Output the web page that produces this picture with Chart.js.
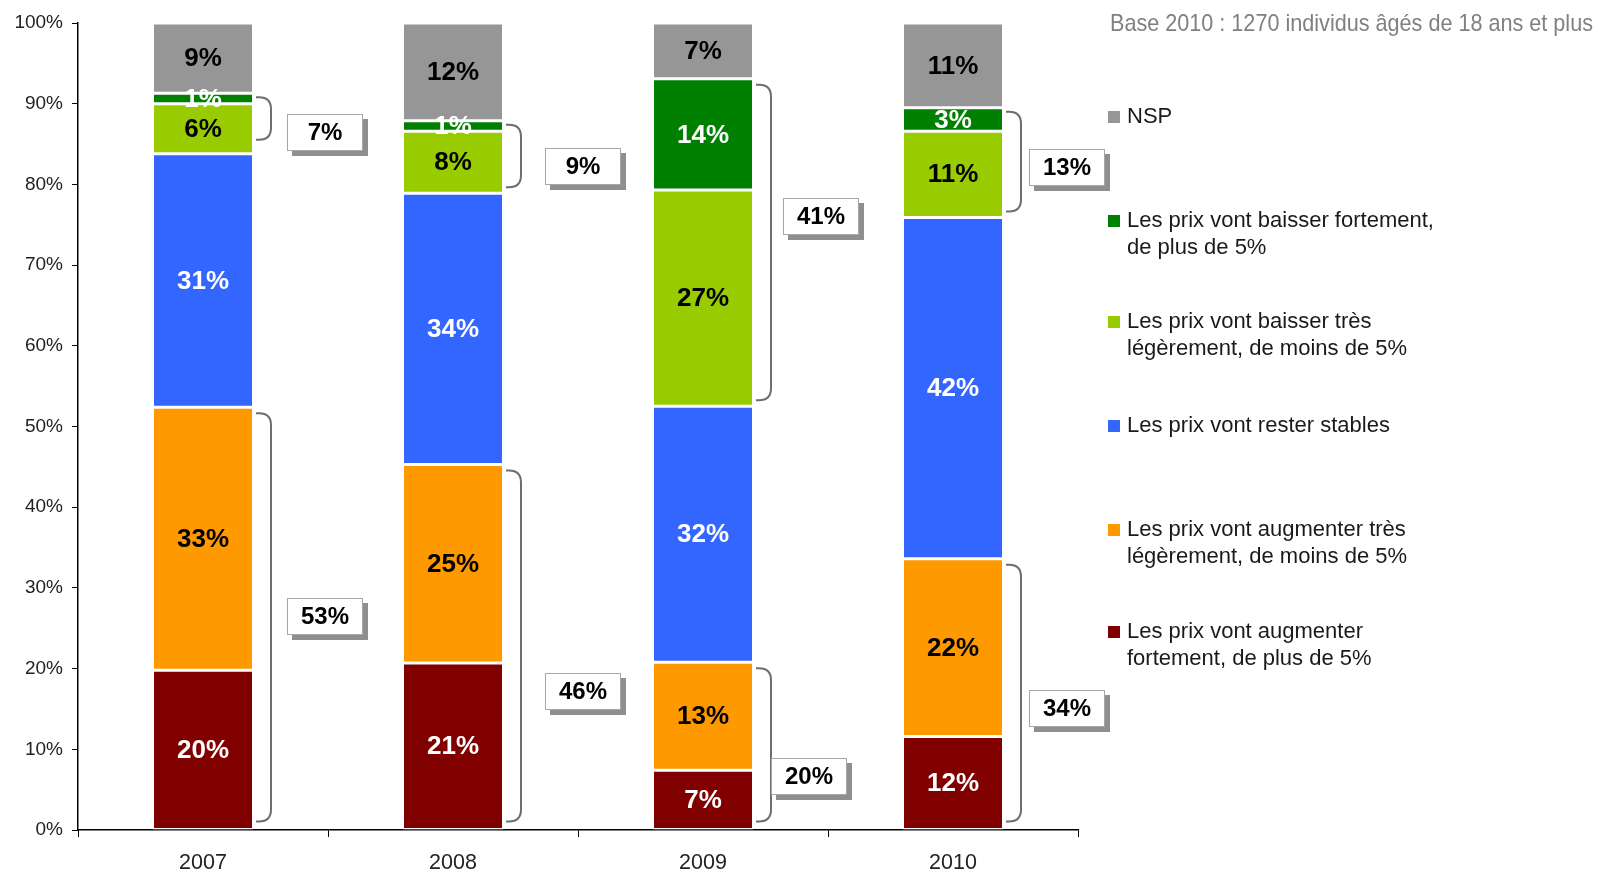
<!DOCTYPE html>
<html><head><meta charset="utf-8">
<script src="https://cdn.jsdelivr.net/npm/chart.js@4.4.0/dist/chart.umd.min.js"></script>
<style>html,body{margin:0;padding:0;background:#fff;overflow:hidden}</style>
</head><body>
<canvas id="c" width="1598" height="871" style="width:1598px;height:871px;display:block"></canvas>
<script>
// ---- DATA ----
const categories = ['2007', '2008', '2009', '2010'];
const augmenterFortement  = [19.8, 20.7, 7.4, 11.6];
const augmenterLegerement = [32.6, 24.6, 13.4, 22.0];
const resterStables       = [31.4, 33.6, 31.7, 42.3];
const baisserLegerement   = [6.2, 7.7, 26.8, 10.7];
const baisserFortement    = [1.3, 1.3, 13.8, 2.9];
const nsp                 = [8.7, 12.1, 6.9, 10.5];
const totalAugmenter = [53, 46, 20, 34];
const totalBaisser   = [7, 9, 41, 13];
const yTickValues = [0, 10, 20, 30, 40, 50, 60, 70, 80, 90, 100];
const seriesNames = [
  ['Les prix vont augmenter', 'fortement, de plus de 5%'],
  ['Les prix vont augmenter très', 'légèrement, de moins de 5%'],
  ['Les prix vont rester stables'],
  ['Les prix vont baisser très', 'légèrement, de moins de 5%'],
  ['Les prix vont baisser fortement,', 'de plus de 5%'],
  ['NSP']
];
const baseNote = 'Base 2010 : 1270 individus âgés de 18 ans et plus';

// ---- STYLE / LAYOUT ----
const FONT = '"Liberation Sans", Arial, sans-serif';
const colors = ['#800000', '#FF9900', '#3366FF', '#99CC00', '#008000', '#969696'];
const labelColors = ['#fff', '#000', '#fff', '#000', '#fff', '#000'];
const seriesValues = [augmenterFortement, augmenterLegerement, resterStables, baisserLegerement, baisserFortement, nsp];
// box placement: dx from bar right edge (px) to box centre, and vertical centre in axis %
const boxLayoutHigh = [{dx: 72, v: 86.4}, {dx: 80, v: 82.2}, {dx: 68, v: 76.0}, {dx: 64, v: 82.1}];
const boxLayoutLow  = [{dx: 72, v: 26.4}, {dx: 80, v: 17.2}, {dx: 56, v: 6.6}, {dx: 64, v: 15.1}];
const bracketInsetHigh = [{t: 4, b: 14}, {t: 4, b: 6}, {t: 6, b: 6}, {t: 4, b: 6}];

const datasets = seriesValues.map((vals, i) => ({
  label: seriesNames[i].join(' '),
  data: vals,
  backgroundColor: colors[i],
  borderColor: '#ffffff',
  borderWidth: {top: 1.5, bottom: 1.5, left: 1, right: 1},
  borderSkipped: false,
  categoryPercentage: 1,
  barPercentage: 0.4
}));

const segmentLabels = {
  id: 'segmentLabels',
  afterDatasetsDraw(chart) {
    const ctx = chart.ctx;
    ctx.save();
    ctx.font = 'bold 26px ' + FONT;
    ctx.textAlign = 'center';
    ctx.textBaseline = 'middle';
    chart.data.datasets.forEach((ds, di) => {
      const meta = chart.getDatasetMeta(di);
      meta.data.forEach((el, i) => {
        const v = ds.data[i];
        ctx.fillStyle = labelColors[di];
        ctx.fillText(Math.round(v) + '%', el.x, (el.y + el.base) / 2 + 1);
      });
    });
    ctx.restore();
  }
};

function drawBracket(ctx, x0, yTop, yBot) {
  const w = 15;
  const r = Math.min(12, (yBot - yTop) / 2);
  const x1 = x0 + w;
  ctx.beginPath();
  ctx.moveTo(x0, yTop);
  ctx.lineTo(x1 - r, yTop);
  ctx.quadraticCurveTo(x1, yTop, x1, yTop + r);
  ctx.lineTo(x1, yBot - r);
  ctx.quadraticCurveTo(x1, yBot, x1 - r, yBot);
  ctx.lineTo(x0, yBot);
  ctx.stroke();
}

function drawBox(ctx, cx, cy, text) {
  const w = 76, h = 37;
  const x = Math.round(cx - w / 2), y = Math.round(cy - h / 2);
  ctx.fillStyle = '#8f8f8f';
  ctx.fillRect(x + 5, y + 5, w, h);
  ctx.fillStyle = '#ffffff';
  ctx.fillRect(x, y, w, h);
  ctx.strokeStyle = '#a6a6a6';
  ctx.lineWidth = 1;
  ctx.strokeRect(x + 0.5, y + 0.5, w - 1, h - 1);
  ctx.fillStyle = '#000';
  ctx.font = 'bold 24px ' + FONT;
  ctx.textAlign = 'center';
  ctx.textBaseline = 'middle';
  ctx.fillText(text, x + w / 2, y + h / 2 + 1);
}

const brackets = {
  id: 'brackets',
  afterDatasetsDraw(chart) {
    const ctx = chart.ctx;
    const ys = chart.scales.y;
    ctx.save();
    categories.forEach((c, i) => {
      const red = chart.getDatasetMeta(0).data[i];
      const orange = chart.getDatasetMeta(1).data[i];
      const lg = chart.getDatasetMeta(3).data[i];
      const dg = chart.getDatasetMeta(4).data[i];
      const right = red.x + red.width / 2;
      ctx.strokeStyle = '#6e6e6e';
      ctx.lineWidth = 2;
      drawBracket(ctx, right + 3, orange.y + 6, red.base - 8);
      drawBracket(ctx, right + 3, dg.y + bracketInsetHigh[i].t, lg.base - bracketInsetHigh[i].b);
      drawBox(ctx, right + boxLayoutLow[i].dx, ys.getPixelForValue(boxLayoutLow[i].v), totalAugmenter[i] + '%');
      drawBox(ctx, right + boxLayoutHigh[i].dx, ys.getPixelForValue(boxLayoutHigh[i].v), totalBaisser[i] + '%');
    });
    ctx.restore();
  }
};

const sideLegend = {
  id: 'sideLegend',
  afterDraw(chart) {
    const ctx = chart.ctx;
    ctx.save();
    const order = [5, 4, 3, 2, 1, 0];
    const firstY = [117, 221, 322, 426, 530, 632];
    ctx.font = '22px ' + FONT;
    ctx.textBaseline = 'middle';
    ctx.textAlign = 'left';
    order.forEach((di, k) => {
      const y = firstY[k];
      ctx.fillStyle = colors[di];
      ctx.fillRect(1108, y - 6, 12, 12);
      ctx.fillStyle = '#1a1a1a';
      seriesNames[di].forEach((line, li) => {
        ctx.fillText(line, 1127, y + li * 26.7);
      });
    });
    // base note, condensed grey text fitted to its width
    ctx.font = '24px "Liberation Sans Narrow", "Arial Narrow", ' + FONT;
    ctx.fillStyle = '#808080';
    ctx.textBaseline = 'alphabetic';
    const tw = ctx.measureText(baseNote).width;
    const target = 483;
    ctx.translate(1110, 31);
    ctx.scale(target / tw, 1);
    ctx.fillText(baseNote, 0, 0);
    ctx.restore();
  }
};

new Chart(document.getElementById('c'), {
  type: 'bar',
  data: { labels: categories, datasets },
  options: {
    responsive: false,
    animation: false,
    devicePixelRatio: 1,
    layout: { padding: { top: 23, right: 520, left: 0, bottom: 0 } },
    plugins: { legend: { display: false }, tooltip: { enabled: false }, title: { display: false } },
    scales: {
      x: {
        stacked: true,
        grid: { offset: true, drawOnChartArea: false, drawTicks: true, tickLength: 7, color: '#000', lineWidth: 1 },
        border: { display: true, color: '#000', width: 1.5 },
        ticks: { color: '#222', font: { family: FONT, size: 21.5 }, padding: 13 },
        afterFit(s) { s.height = 41; }
      },
      y: {
        stacked: true,
        min: 0, max: 100,
        afterBuildTicks(s) { s.ticks = yTickValues.map(v => ({ value: v })); },
        grid: { drawOnChartArea: false, drawTicks: true, tickLength: 6, color: '#000', lineWidth: 1 },
        border: { display: true, color: '#000', width: 1.5 },
        ticks: { color: '#222', font: { family: FONT, size: 19 }, padding: 9, callback: v => v + '%' },
        afterFit(s) { s.width = 78; }
      }
    }
  },
  plugins: [segmentLabels, brackets, sideLegend]
});
</script>
</body></html>
